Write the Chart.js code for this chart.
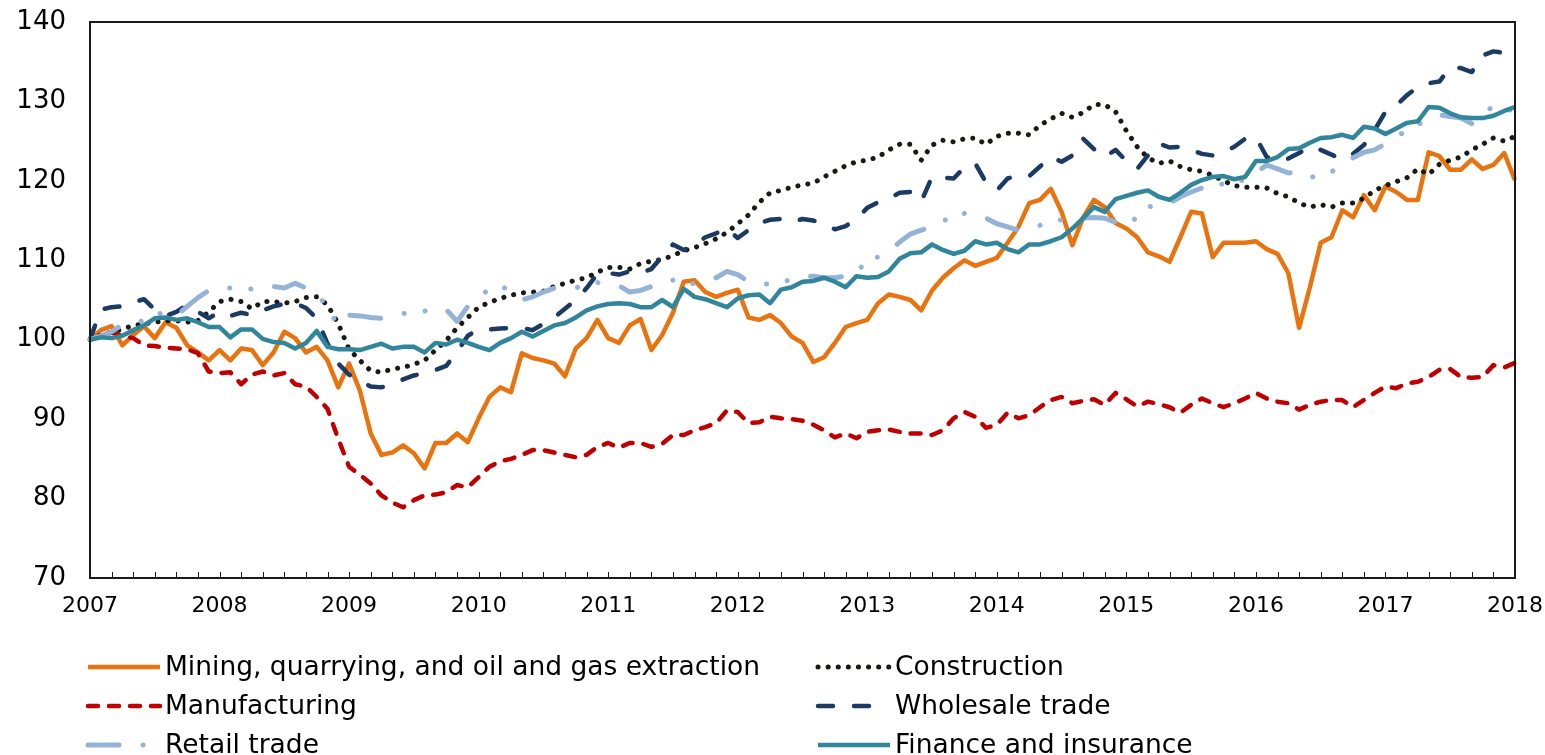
<!DOCTYPE html>
<html>
<head>
<meta charset="utf-8">
<script src="https://cdn.jsdelivr.net/npm/chart.js@4"></script>
<style>
  html, body { margin: 0; padding: 0; background: #fff; }
  #wrap { width: 1545px; height: 755px; }
</style>
</head>
<body>
<div id="wrap"><canvas id="chart" width="1545" height="755"></canvas></div>
<script>
// Index, January 2007 = 100, monthly Jan 2007 .. Jan 2018
const years = ['2007', '2008', '2009', '2010', '2011', '2012', '2013', '2014', '2015', '2016', '2017', '2018'];

const mining = [
  100.0, 101.2, 101.7, 99.3, 100.6, 101.7, 100.2, 102.2, 101.5, 99.3, 98.4, 97.4,
  98.7, 97.4, 98.9, 98.7, 96.8, 98.4, 101.0, 100.2, 98.4, 99.1, 97.4, 94.0,
  97.0, 93.6, 88.2, 85.5, 85.8, 86.7, 85.7, 83.8, 87.0, 87.0, 88.2, 87.1,
  90.1, 92.8, 94.0, 93.4, 98.3, 97.7, 97.4, 97.0, 95.4, 98.9, 100.2, 102.5,
  100.2, 99.6, 101.8, 102.6, 98.7, 100.6, 103.4, 107.3, 107.5, 106.0, 105.4, 105.9,
  106.3, 102.8, 102.5, 103.1, 102.1, 100.4, 99.6, 97.2, 97.8, 99.6, 101.6, 102.1,
  102.5, 104.6, 105.7, 105.4, 105.0, 103.7, 106.2, 107.8, 109.0, 110.0, 109.3, 109.8,
  110.3, 112.2, 114.2, 117.2, 117.6, 119.0, 116.1, 111.9, 115.4, 117.6, 116.7, 114.7,
  114.0, 112.9, 111.0, 110.5, 109.8, 112.9, 116.1, 115.9, 110.4, 112.2, 112.2, 112.2,
  112.4, 111.4, 110.8, 108.4, 101.5, 106.6, 112.2, 112.9, 116.3, 115.4, 118.2, 116.3,
  119.3, 118.6, 117.6, 117.6, 123.6, 123.1, 121.4, 121.4, 122.7, 121.5, 122.0, 123.5,
  120.1
];

const construction = [
  100.0, 100.6, 101.0, 101.3, 101.8, 102.0, 102.2, 102.4, 102.4, 102.2, 102.4, 103.5,
  104.8, 105.1, 104.8, 103.9, 104.8, 104.8, 104.6, 104.8, 105.3, 105.4, 104.4, 102.0,
  98.8, 97.4, 96.1, 95.9, 96.3, 96.5, 96.9, 97.4, 98.7, 99.9, 101.5, 102.8,
  104.1, 104.7, 105.2, 105.6, 105.9, 106.0, 106.1, 106.7, 107.1, 107.5, 107.8, 108.5,
  109.1, 109.1, 108.9, 109.6, 109.9, 110.1, 110.6, 111.2, 111.6, 112.1, 112.7, 113.5,
  114.6, 115.7, 117.3, 118.5, 118.8, 119.2, 119.5, 119.7, 120.5, 121.2, 121.9, 122.4,
  122.6, 123.0, 123.9, 124.6, 124.6, 122.6, 124.5, 125.1, 124.9, 125.3, 125.4, 124.6,
  125.6, 126.0, 126.0, 125.8, 127.0, 127.8, 128.5, 128.0, 128.6, 129.6, 129.6, 128.7,
  126.3, 124.3, 122.9, 122.2, 122.5, 121.8, 121.4, 121.2, 120.7, 120.0, 119.4, 119.2,
  119.2, 119.1, 118.4, 118.0, 117.2, 116.7, 117.0, 116.7, 117.2, 117.2, 117.8, 118.8,
  119.4, 119.9, 120.4, 121.5, 120.8, 122.1, 122.6, 123.0, 123.9, 124.6, 125.4, 125.0,
  125.6
];

const manufacturing = [
  100.0, 100.4, 100.9, 100.5, 100.2, 99.3, 99.2, 99.0, 98.9, 98.8, 98.3, 96.0,
  95.8, 95.9, 94.4, 95.6, 96.0, 95.5, 95.8, 94.4, 94.1, 92.8, 91.3, 87.5,
  84.0, 83.0, 81.9, 80.4, 79.5, 78.9, 79.8, 80.4, 80.5, 80.8, 81.7, 81.4,
  82.7, 84.0, 84.7, 85.0, 85.5, 86.1, 86.1, 85.8, 85.5, 85.2, 85.5, 86.5,
  87.0, 86.4, 87.0, 87.0, 86.5, 86.9, 88.0, 88.0, 88.6, 89.0, 89.5, 91.1,
  90.9, 89.5, 89.6, 90.3, 90.1, 90.0, 89.8, 89.3, 88.6, 87.7, 88.2, 87.6,
  88.4, 88.6, 88.7, 88.4, 88.2, 88.2, 88.0, 88.6, 90.1, 90.9, 90.3, 88.9,
  89.3, 90.8, 90.1, 90.5, 91.5, 92.4, 92.8, 92.0, 92.3, 92.5, 91.8, 93.3,
  92.5, 91.6, 92.2, 91.9, 91.5, 90.8, 91.8, 92.6, 92.0, 91.5, 92.0, 92.6,
  93.3, 92.6, 92.2, 92.0, 91.2, 91.8, 92.2, 92.4, 92.4, 91.5, 92.4, 93.3,
  94.1, 93.9, 94.5, 94.7, 95.3, 96.2, 96.3, 95.3, 95.2, 95.3, 96.8, 96.5,
  97.1
];

const wholesale = [
  100.0, 103.8, 104.1, 104.2, 104.7, 105.1, 103.8, 103.0, 103.5, 104.4, 103.5, 102.7,
  103.5, 103.0, 103.4, 103.1, 103.7, 104.2, 104.5, 104.6, 104.0, 102.7, 99.5, 97.0,
  95.6, 94.8, 94.1, 94.0, 94.4, 95.0, 95.5, 95.8, 96.2, 96.7, 98.5, 100.5,
  101.3, 101.3, 101.4, 101.5, 101.5, 101.2, 102.0, 102.8, 103.9, 105.0, 106.5, 108.3,
  108.4, 108.2, 108.6, 108.4, 108.9, 110.5, 112.0, 111.3, 111.9, 112.9, 113.4, 114.0,
  112.8, 113.8, 114.7, 115.1, 115.2, 114.8, 115.2, 115.0, 114.6, 113.9, 114.3, 115.2,
  116.6, 117.3, 117.8, 118.5, 118.6, 117.4, 120.5, 120.4, 120.3, 121.7, 122.2, 119.8,
  118.8, 120.3, 120.7, 120.6, 121.8, 123.0, 122.4, 123.2, 125.3, 124.0, 123.0, 123.9,
  122.5, 121.5, 123.2, 124.7, 124.2, 124.3, 123.9, 123.4, 123.2, 123.6, 124.3, 125.3,
  125.5, 123.0, 122.5, 122.8, 123.5, 124.3, 123.9, 123.3, 122.7, 123.4, 124.5, 126.4,
  128.7, 129.5, 130.8, 131.8, 132.3, 132.5, 134.3, 134.2, 133.7, 135.8, 136.3, 136.1,
  136.5
];

const retail = [
  100.0, 100.5, 101.0, 101.9, 102.1, 102.4, 103.3, 103.3, 103.0, 104.2, 105.3, 106.2,
  106.5, 106.5, 106.4, 106.4, 106.8, 106.7, 106.5, 107.1, 106.5, 105.9, 104.0, 101.8,
  103.1, 103.0, 102.8, 102.7, 103.0, 103.3, 103.4, 103.6, 104.0, 103.8, 102.3, 104.2,
  105.5, 106.3, 106.8, 106.1, 105.0, 105.4, 106.0, 106.5, 106.5, 106.5, 107.0, 107.2,
  107.0, 106.8, 106.0, 106.2, 106.7, 107.4, 107.5, 106.9, 107.1, 107.3, 107.8, 108.6,
  108.2, 107.3, 107.0, 107.0, 107.2, 107.6, 108.0, 108.0, 107.8, 107.8, 108.0, 108.2,
  110.3, 110.4, 111.0, 112.3, 113.3, 113.8, 114.2, 115.1, 115.0, 115.9, 115.7, 115.3,
  114.6, 114.2, 113.8, 114.1, 114.4, 114.9, 115.1, 115.2, 115.3, 115.4, 115.3, 114.8,
  114.2, 115.5, 116.8, 116.7, 117.2, 118.0, 118.6, 119.1, 120.1, 119.5, 120.1, 120.0,
  121.0, 122.0, 121.5, 121.0, 121.1, 120.4, 120.8, 121.1, 122.2, 122.9, 123.6, 123.9,
  124.7, 125.7, 126.2, 127.1, 127.6, 128.3, 128.1, 127.9, 127.2, 128.6, 129.3, 128.8,
  129.0
];

const finance = [
  100.0, 100.3, 100.2, 100.5, 101.2, 101.8, 102.7, 102.8, 102.5, 102.7, 102.2, 101.6,
  101.6, 100.3, 101.3, 101.3, 100.1, 99.7, 99.6, 98.9, 99.6, 101.1, 99.1, 98.8,
  98.8, 98.7, 99.1, 99.5, 98.9, 99.1, 99.1, 98.4, 99.6, 99.4, 100.0, 99.6,
  99.1, 98.7, 99.6, 100.2, 101.0, 100.4, 101.1, 101.8, 102.1, 102.8, 103.7, 104.2,
  104.5, 104.6, 104.5, 104.1, 104.1, 105.0, 104.1, 106.4, 105.4, 105.1, 104.6, 104.1,
  105.2, 105.6, 105.7, 104.6, 106.3, 106.6, 107.3, 107.4, 107.8, 107.3, 106.6, 108.0,
  107.8, 107.9, 108.6, 110.2, 110.9, 111.0, 112.0, 111.3, 110.8, 111.2, 112.4, 112.0,
  112.2, 111.4, 111.0, 112.0, 112.0, 112.4, 112.9, 114.0, 115.3, 116.7, 116.1, 117.7,
  118.1, 118.5, 118.8, 118.0, 117.6, 118.5, 119.5, 120.1, 120.5, 120.6, 120.2, 120.5,
  122.5, 122.5, 123.0, 124.0, 124.1, 124.8, 125.4, 125.5, 125.8, 125.4, 126.8, 126.6,
  125.9, 126.6, 127.3, 127.5, 129.3, 129.2, 128.5, 128.0, 127.9, 127.9, 128.2, 128.8,
  129.3
];

// one category per month
const monthLabels = [];
years.forEach((y, i) => {
  const n = i < years.length - 1 ? 12 : 1;
  for (let m = 1; m <= n; m++) monthLabels.push(y + '-' + String(m).padStart(2, '0'));
});

const FONT = "'DejaVu Sans', Verdana, sans-serif";

function series(label, data, color, width, dash, cap, order) {
  return {
    label, data,
    borderColor: color,
    backgroundColor: color,
    borderWidth: width,
    borderDash: dash,
    borderCapStyle: cap,
    borderJoinStyle: 'round',
    pointRadius: 0,
    tension: 0,
    fill: false,
    order
  };
}

const datasets = [
  series('Mining, quarrying, and oil and gas extraction', mining, '#E8730F', 4.5, [], 'butt', 5),
  series('Construction', construction, '#1A1A14', 5, [0.1, 10], 'round', 4),
  series('Manufacturing', manufacturing, '#C00000', 4.5, [10, 11], 'round', 3),
  series('Wholesale trade', wholesale, '#1B3A64', 4.5, [15, 21], 'round', 2),
  series('Retail trade', retail, '#95B3D7', 5, [31, 24, 0.1, 21, 0.1, 24], 'round', 1),
  series('Finance and insurance', finance, '#31869B', 4.5, [], 'butt', 0)
];

// inward tick marks every two months + box around the plot
const frameTicks = {
  id: 'frameTicks',
  afterDatasetsDraw(chart) {
    const { ctx, chartArea: a, scales: { x } } = chart;
    ctx.save();
    ctx.strokeStyle = '#1a1a1a';
    ctx.lineWidth = 1;
    ctx.beginPath();
    for (let i = 0; i < monthLabels.length; i += 2) {
      const px = Math.round(x.getPixelForValue(i)) + 0.5;
      ctx.moveTo(px, a.bottom);
      ctx.lineTo(px, a.bottom - 6);
    }
    ctx.stroke();
    ctx.lineWidth = 2;
    ctx.strokeRect(a.left, a.top, a.right - a.left, a.bottom - a.top);
    ctx.restore();
  }
};

// two-column legend below the axis
const legendGrid = {
  id: 'legendGrid',
  afterDraw(chart) {
    const { ctx } = chart;
    const cols = [88, 818], rows = [667, 706, 745];
    ctx.save();
    chart.data.datasets.forEach((ds, i) => {
      const x0 = cols[i % 2], y = rows[Math.floor(i / 2)];
      ctx.beginPath();
      ctx.strokeStyle = ds.borderColor;
      ctx.lineWidth = ds.borderWidth;
      ctx.lineCap = ds.borderCapStyle;
      ctx.setLineDash(ds.borderDash);
      ctx.moveTo(x0, y);
      ctx.lineTo(x0 + 72, y);
      ctx.stroke();
      ctx.setLineDash([]);
      ctx.fillStyle = '#000';
      ctx.font = '26.5px ' + FONT;
      ctx.textBaseline = 'middle';
      ctx.textAlign = 'left';
      ctx.fillText(ds.label, x0 + 77, y + 1);
    });
    ctx.restore();
  }
};

new Chart(document.getElementById('chart'), {
  type: 'line',
  data: { labels: monthLabels, datasets },
  options: {
    responsive: false,
    animation: false,
    devicePixelRatio: 1,
    layout: { padding: { top: 22, right: 30, left: 0, bottom: 0 } },
    plugins: { legend: { display: false }, tooltip: { enabled: false } },
    scales: {
      x: {
        offset: false,
        grid: { display: false, drawTicks: false },
        border: { display: true, color: '#1a1a1a', width: 2 },
        afterFit(scale) {
          scale.height = 177;
          scale.paddingLeft = 0;
          scale.paddingRight = 0;
        },
        ticks: {
          autoSkip: false,
          maxRotation: 0,
          padding: 15,
          color: '#000',
          font: { family: FONT, size: 22 },
          callback: (v, i) => (i % 12 === 0 ? years[i / 12] : '')
        }
      },
      y: {
        min: 70,
        max: 140,
        grid: { display: false, drawTicks: false },
        border: { display: true, color: '#1a1a1a', width: 2 },
        afterFit(scale) {
          scale.width = 90;
          scale.paddingTop = 0;
          scale.paddingBottom = 0;
        },
        ticks: {
          stepSize: 10,
          padding: 24,
          color: '#000',
          font: { family: FONT, size: 26 }
        }
      }
    }
  },
  plugins: [frameTicks, legendGrid]
});
</script>
</body>
</html>
